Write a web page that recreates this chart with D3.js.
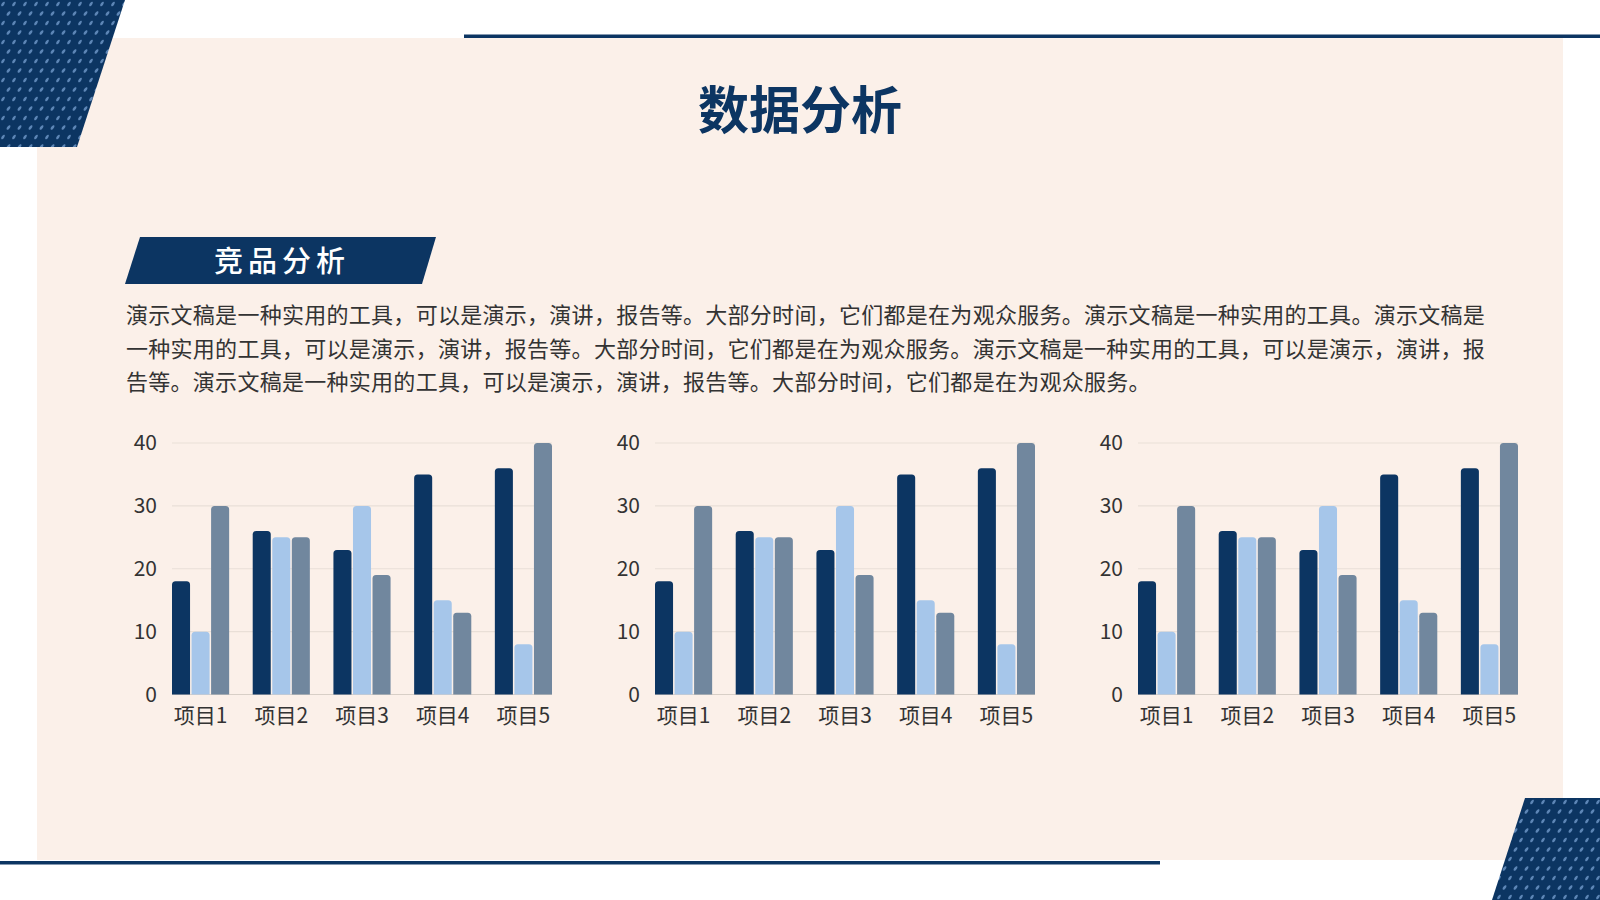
<!DOCTYPE html>
<meta charset="utf-8">
<style>
  body { margin: 0; background: #fff; }
  svg { display: block; font-family: "Noto Sans CJK SC", "Noto Sans", sans-serif; }
</style>
<svg width="1600" height="900"></svg>
<script src="https://d3js.org/d3.v7.min.js"></script>
<script>

var categories = ["项目1", "项目2", "项目3", "项目4", "项目5"];
var series1 = [18, 26, 23, 35, 36];
var series2 = [10, 25, 30, 15, 8];
var series3 = [30, 25, 19, 13, 40];
var yTicks = [0, 10, 20, 30, 40];
var chartOffsets = [172, 655, 1138];

var title = "数据分析";
var subtitle = "竞品分析";
var paragraph = [
  "演示文稿是一种实用的工具，可以是演示，演讲，报告等。大部分时间，它们都是在为观众服务。演示文稿是一种实用的工具。演示文稿是",
  "一种实用的工具，可以是演示，演讲，报告等。大部分时间，它们都是在为观众服务。演示文稿是一种实用的工具，可以是演示，演讲，报",
  "告等。演示文稿是一种实用的工具，可以是演示，演讲，报告等。大部分时间，它们都是在为观众服务。"
];

var navy = "#0c3562",
    colors = ["#0c3562", "#a6c6ea", "#71879e"];

var svg = d3.select("svg");

// dotted pattern for the corner shapes
var defs = svg.append("defs");
var pat = defs.append("pattern")
    .attr("id", "dots")
    .attr("patternUnits", "userSpaceOnUse")
    .attr("width", 11)
    .attr("height", 19);
pat.append("rect").attr("width", 11).attr("height", 19).attr("fill", navy);
[[3, 4], [8.5, 13.5]].forEach(function(p) {
  pat.append("ellipse")
      .attr("cx", p[0]).attr("cy", p[1])
      .attr("rx", 2.6).attr("ry", 1.3)
      .attr("transform", "rotate(-55," + p[0] + "," + p[1] + ")")
      .attr("fill", "#5d86b6");
});

// backgrounds
svg.append("rect")
    .attr("x", 37).attr("y", 38)
    .attr("width", 1526).attr("height", 822)
    .attr("fill", "#fbf0e9");

svg.append("path")
    .attr("d", "M0,0 L125,0 L77,147 L0,147 Z")
    .attr("fill", "url(#dots)");

svg.append("path")
    .attr("d", "M1525,798 L1600,798 L1600,900 L1492,900 Z")
    .attr("fill", "url(#dots)");

svg.append("rect")
    .attr("x", 464).attr("y", 34.5)
    .attr("width", 1136).attr("height", 3.5)
    .attr("fill", navy);

svg.append("rect")
    .attr("x", 0).attr("y", 861)
    .attr("width", 1160).attr("height", 3.5)
    .attr("fill", navy);

// title
svg.append("text")
    .attr("x", 800).attr("y", 129)
    .attr("text-anchor", "middle")
    .attr("font-size", 51)
    .attr("font-weight", 700)
    .attr("fill", navy)
    .text(title);

// banner
svg.append("path")
    .attr("d", "M140,237 L436,237 L422,284 L125,284 Z")
    .attr("fill", navy);

svg.append("text")
    .attr("x", 282).attr("y", 272)
    .attr("text-anchor", "middle")
    .attr("font-size", 29)
    .attr("font-weight", 500)
    .attr("letter-spacing", 5)
    .attr("fill", "#fff")
    .text(subtitle);

// body text
svg.append("g")
    .selectAll("text")
    .data(paragraph)
  .enter().append("text")
    .attr("x", 126)
    .attr("y", function(d, i) { return 323 + i * 33.5; })
    .attr("font-size", 22)
    .attr("letter-spacing", 0.28)
    .attr("fill", "#333")
    .text(function(d) { return d; });

// charts
var width = 380, height = 251.5, plotTop = 443;

var x0 = d3.scaleBand()
    .domain(categories)
    .range([0, width])
    .paddingInner(0.292)
    .paddingOuter(0);

var x1 = d3.scaleBand()
    .domain([0, 1, 2])
    .range([0, x0.bandwidth()])
    .paddingInner(0.077);

var y = d3.scaleLinear()
    .domain([0, 40])
    .range([height, 0]);

var rows = categories.map(function(c, i) {
  return { cat: c, values: [series1[i], series2[i], series3[i]] };
});

function barPath(x, yTop, w, h, r) {
  r = Math.min(r, h);
  return "M" + x + "," + (yTop + h) +
    "V" + (yTop + r) +
    "Q" + x + "," + yTop + " " + (x + r) + "," + yTop +
    "H" + (x + w - r) +
    "Q" + (x + w) + "," + yTop + " " + (x + w) + "," + (yTop + r) +
    "V" + (yTop + h) + "Z";
}

function drawChart(left) {
  var g = svg.append("g").attr("transform", "translate(" + left + "," + plotTop + ")");

  g.append("g")
    .selectAll("line")
    .data(yTicks)
  .enter().append("line")
    .attr("x1", 0).attr("x2", width)
    .attr("y1", function(d) { return y(d); })
    .attr("y2", function(d) { return y(d); })
    .attr("stroke", function(d) { return d === 0 ? "#d8cfc7" : "#e9dfd7"; })
    .attr("stroke-width", 1.2);

  g.append("g")
    .selectAll("text")
    .data(yTicks)
  .enter().append("text")
    .attr("x", -15)
    .attr("y", function(d) { return y(d); })
    .attr("dy", "0.35em")
    .attr("text-anchor", "end")
    .attr("font-size", 21)
    .attr("fill", "#333")
    .text(function(d) { return d; });

  var groups = g.append("g")
    .selectAll("g")
    .data(rows)
  .enter().append("g")
    .attr("transform", function(d) { return "translate(" + x0(d.cat) + ",0)"; });

  groups.selectAll("path")
    .data(function(d) { return d.values; })
  .enter().append("path")
    .attr("fill", function(d, i) { return colors[i]; })
    .attr("d", function(d, i) {
      return barPath(x1(i), y(d), x1.bandwidth(), height - y(d), 3.5);
    });

  g.append("g")
    .selectAll("text")
    .data(categories)
  .enter().append("text")
    .attr("x", function(d) { return x0(d) + x0.bandwidth() / 2; })
    .attr("y", height + 28)
    .attr("text-anchor", "middle")
    .attr("font-size", 21)
    .attr("fill", "#333")
    .text(function(d) { return d; });
}

chartOffsets.forEach(drawChart);

</script>
